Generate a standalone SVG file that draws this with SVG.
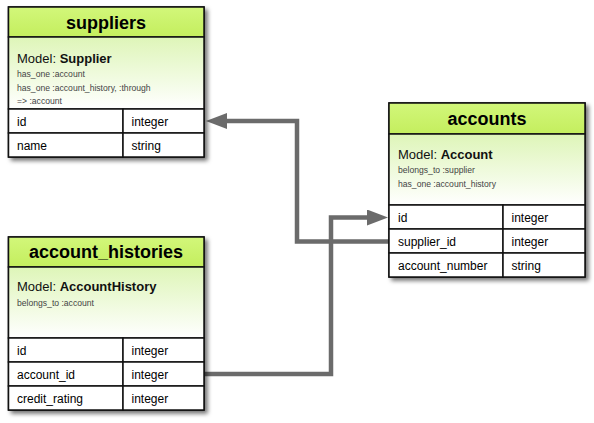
<svg xmlns="http://www.w3.org/2000/svg" width="594" height="423" viewBox="0 0 594 423">
<defs>
<linearGradient id="hdr" x1="0" y1="0" x2="0" y2="1">
<stop offset="0" stop-color="#d2f77a"/>
<stop offset="1" stop-color="#c4ee5e"/>
</linearGradient>
<linearGradient id="mdl" x1="0" y1="0" x2="0" y2="1">
<stop offset="0" stop-color="#def5b8"/>
<stop offset="1" stop-color="#ffffff"/>
</linearGradient>
<filter id="shadow" x="-10%" y="-10%" width="125%" height="125%">
<feDropShadow dx="3" dy="3" stdDeviation="2.2" flood-color="#000" flood-opacity="0.55"/>
</filter>
<marker id="arrow" viewBox="0 0 21 16" markerWidth="21" markerHeight="16" refX="0" refY="8" orient="auto" markerUnits="userSpaceOnUse">
<path d="M0,0 L21,8 L0,16 z" fill="#6b6b6b"/>
</marker>
</defs>
<style>
.frame{fill:#fff;stroke:#111;stroke-width:1.5;filter:url(#shadow)}
.hdr{fill:url(#hdr);stroke:#111;stroke-width:1.5}
.mdl{fill:url(#mdl);stroke:#111;stroke-width:1.5}
.cell{fill:#fff;stroke:#111;stroke-width:1.5}
.title{font-family:"Liberation Sans",Arial,sans-serif;font-weight:bold;font-size:18px;fill:#000;text-anchor:middle}
.model{font-family:"Liberation Sans",Arial,sans-serif;font-size:13px;fill:#111}
.model tspan.b{font-weight:bold}
.small{font-family:"Liberation Sans",Arial,sans-serif;font-size:8.6px;fill:#444}
.row{font-family:"Liberation Sans",Arial,sans-serif;font-size:12px;fill:#000}
.conn{fill:none;stroke:#6b6b6b;stroke-width:4.5;stroke-linejoin:miter}
</style>

<g id="connectors">
<path class="conn" d="M389,241.5 H297 V121 H227" marker-end="url(#arrow)"/>
<path class="conn" d="M204,374 H331 V217.5 H367" marker-end="url(#arrow)"/>
</g>

<g id="suppliers">
<rect class="frame" x="8.5" y="7" width="195.5" height="150"/>
<rect class="hdr" x="8.5" y="7" width="195.5" height="30"/>
<rect class="mdl" x="8.5" y="37" width="195.5" height="72"/>
<rect class="cell" x="8.5" y="109" width="114.5" height="24"/>
<rect class="cell" x="123" y="109" width="81" height="24"/>
<rect class="cell" x="8.5" y="133" width="114.5" height="24"/>
<rect class="cell" x="123" y="133" width="81" height="24"/>
<text class="title" x="106" y="29">suppliers</text>
<text class="model" x="17" y="63">Model: <tspan class="b">Supplier</tspan></text>
<text class="small" x="17" y="77">has_one :account</text>
<text class="small" x="17" y="91">has_one :account_history, :through</text>
<text class="small" x="17" y="104">=&gt; :account</text>
<text class="row" x="17" y="126">id</text>
<text class="row" x="131.5" y="126">integer</text>
<text class="row" x="17" y="150">name</text>
<text class="row" x="131.5" y="150">string</text>
</g>

<g id="accounts">
<rect class="frame" x="389" y="103" width="196" height="174"/>
<rect class="hdr" x="389" y="103" width="196" height="31"/>
<rect class="mdl" x="389" y="134" width="196" height="71"/>
<rect class="cell" x="389" y="205" width="114" height="24"/>
<rect class="cell" x="503" y="205" width="82" height="24"/>
<rect class="cell" x="389" y="229" width="114" height="24"/>
<rect class="cell" x="503" y="229" width="82" height="24"/>
<rect class="cell" x="389" y="253" width="114" height="24"/>
<rect class="cell" x="503" y="253" width="82" height="24"/>
<text class="title" x="487" y="125">accounts</text>
<text class="model" x="398" y="159">Model: <tspan class="b">Account</tspan></text>
<text class="small" x="398" y="173">belongs_to :supplier</text>
<text class="small" x="398" y="187">has_one :account_history</text>
<text class="row" x="398" y="222">id</text>
<text class="row" x="511.5" y="222">integer</text>
<text class="row" x="398" y="246">supplier_id</text>
<text class="row" x="511.5" y="246">integer</text>
<text class="row" x="398" y="270">account_number</text>
<text class="row" x="511.5" y="270">string</text>
</g>

<g id="account_histories">
<rect class="frame" x="8.5" y="237" width="195.5" height="173"/>
<rect class="hdr" x="8.5" y="237" width="195.5" height="30"/>
<rect class="mdl" x="8.5" y="267" width="195.5" height="71"/>
<rect class="cell" x="8.5" y="338" width="114.5" height="24"/>
<rect class="cell" x="123" y="338" width="81" height="24"/>
<rect class="cell" x="8.5" y="362" width="114.5" height="24"/>
<rect class="cell" x="123" y="362" width="81" height="24"/>
<rect class="cell" x="8.5" y="386" width="114.5" height="24"/>
<rect class="cell" x="123" y="386" width="81" height="24"/>
<text class="title" x="106" y="258">account_histories</text>
<text class="model" x="17" y="291">Model: <tspan class="b">AccountHistory</tspan></text>
<text class="small" x="17" y="306">belongs_to :account</text>
<text class="row" x="17" y="355">id</text>
<text class="row" x="131.5" y="355">integer</text>
<text class="row" x="17" y="379">account_id</text>
<text class="row" x="131.5" y="379">integer</text>
<text class="row" x="17" y="403">credit_rating</text>
<text class="row" x="131.5" y="403">integer</text>
</g>
</svg>
